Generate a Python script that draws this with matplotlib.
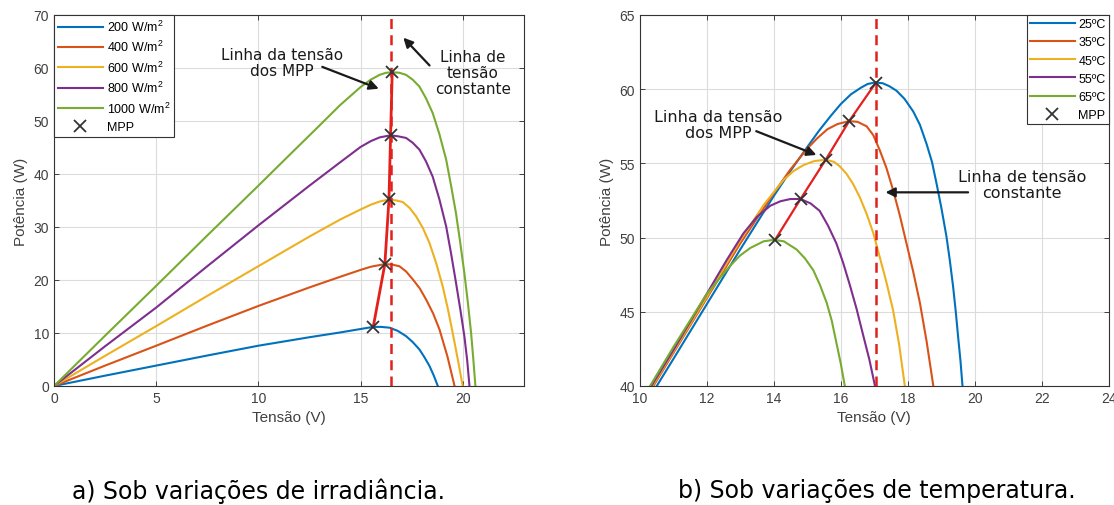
import matplotlib
matplotlib.use("Agg")
import matplotlib.pyplot as plt

plt.rcParams['font.family'] = ['Liberation Sans', 'DejaVu Sans']
plt.rcParams['mathtext.default'] = 'regular'

# ---------------- Data: panel a (irradiance) ----------------
irr_labels = ['200 W/m$^2$', '400 W/m$^2$', '600 W/m$^2$', '800 W/m$^2$', '1000 W/m$^2$']
v200 = [0, 2.5, 5, 7.5, 10, 12.5, 14.0, 15.0, 15.62, 16.0, 16.42, 16.82, 17.23, 17.55, 17.88,
        18.13, 18.37, 18.58, 18.78]
p200 = [0, 1.95, 3.85, 5.75, 7.6, 9.2, 10.1, 10.75, 11.15, 11.15, 11.0, 10.4, 9.4, 8.3, 6.9,
        5.4, 3.8, 2.0, 0]
v400 = [0, 2.5, 5, 7.5, 10, 12.5, 14.0, 15.0, 15.5, 16.19, 16.55, 16.9, 17.23, 17.56, 17.9,
        18.21, 18.55, 18.86, 19.25, 19.6]
p400 = [0, 3.85, 7.6, 11.4, 15.1, 18.6, 20.6, 21.9, 22.5, 23.0, 22.9, 22.6, 21.6, 20.1, 18.4,
        16.3, 13.7, 10.7, 5.6, 0]
v600 = [0, 2.5, 5, 7.5, 10, 12.5, 14.0, 15.0, 15.5, 15.93, 16.39, 16.75, 17.07, 17.4, 17.72,
        18.05, 18.37, 18.7, 19.02, 19.27, 19.51, 19.76, 20.0]
p600 = [0, 5.7, 11.3, 17.0, 22.6, 28.2, 31.4, 33.3, 34.2, 34.8, 35.2, 35.0, 34.7, 33.6, 32.0,
        29.8, 27.0, 23.2, 18.8, 14.6, 10.0, 5.0, 0]
v800 = [0, 2.5, 5, 7.5, 10, 12.5, 14.0, 15.0, 15.5, 15.93, 16.47, 16.85, 17.23, 17.55, 17.88,
        18.2, 18.53, 18.86, 19.19, 19.43, 19.67, 19.88, 20.08, 20.22, 20.33]
p800 = [0, 7.5, 14.8, 22.6, 30.3, 37.8, 42.2, 45.1, 46.2, 46.9, 47.3, 47.1, 46.8, 45.9, 44.6,
        42.4, 39.5, 35.2, 30.1, 25.0, 19.5, 14.5, 9.4, 4.8, 0]
v1000 = [0, 2.5, 5, 7.5, 10, 11.5, 12.9, 14.0, 15.0, 15.5, 15.93, 16.25, 16.55, 16.9, 17.23,
         17.55, 17.88, 18.2, 18.53, 18.86, 19.19, 19.43, 19.67, 19.88, 20.08, 20.25, 20.41,
         20.52, 20.62]
p1000 = [0, 9.5, 18.9, 28.4, 37.8, 43.5, 48.8, 53.0, 56.4, 57.8, 58.7, 59.1, 59.2, 59.1, 58.7,
         57.8, 56.5, 54.3, 51.5, 47.5, 42.7, 37.8, 32.6, 27.0, 21.3, 15.8, 10.0, 5.0, 0]
mpp_a_v = [15.62, 16.19, 16.39, 16.47, 16.55]
mpp_a_p = [11.15, 23.0, 35.2, 47.3, 59.2]
vconst_a = 16.5

# ---------------- Data: panel b (temperature) ----------------
temp_labels = ['25ºC', '35ºC', '45ºC', '55ºC', '65ºC']
v25 = [10.51, 11.0, 12.0, 13.0, 14.0, 14.5, 15.0, 15.35, 15.7, 16.0, 16.3, 16.6, 16.8, 17.02,
       17.25, 17.45, 17.66, 17.9, 18.16, 18.36, 18.56, 18.72, 18.86, 19.0, 19.15, 19.25, 19.35,
       19.43, 19.5, 19.57, 19.63]
p25 = [40, 41.8, 45.5, 49.2, 52.8, 54.5, 56.1, 57.2, 58.2, 59.0, 59.65, 60.1, 60.35, 60.45,
       60.4, 60.2, 59.9, 59.35, 58.5, 57.6, 56.3, 55.1, 53.6, 52.0, 50.1, 48.5, 46.7,
       45.0, 43.3, 41.7, 40]
v35 = [10.41, 11.0, 12.0, 13.0, 14.0, 14.5, 15.0, 15.3, 15.6, 15.9, 16.25, 16.5, 16.77, 16.97,
       17.16, 17.36, 17.56, 17.76, 17.96, 18.16, 18.36, 18.56, 18.76]
p35 = [40, 42.2, 45.9, 49.6, 53.0, 54.6, 56.0, 56.7, 57.3, 57.65, 57.85, 57.8, 57.5, 56.9,
       55.9, 54.7, 53.2, 51.5, 49.6, 47.7, 45.6, 43.0, 40]
v45 = [10.38, 11.0, 12.0, 13.0, 13.7, 14.3, 14.6, 14.9, 15.2, 15.55, 15.8, 15.97, 16.17, 16.37,
       16.57, 16.77, 16.97, 17.16, 17.36, 17.56, 17.74, 17.91]
p45 = [40, 42.3, 46.0, 49.8, 52.2, 53.9, 54.5, 54.9, 55.15, 55.25, 55.1, 54.8, 54.3, 53.6,
       52.7, 51.6, 50.3, 48.7, 47.0, 45.1, 42.8, 40]
v55 = [10.35, 11.0, 12.0, 12.6, 13.1, 13.5, 13.9, 14.2, 14.5, 14.8, 15.1, 15.37, 15.62, 15.87,
       16.07, 16.27, 16.47, 16.67, 16.85, 17.02]
p55 = [40, 42.4, 46.2, 48.5, 50.3, 51.4, 52.15, 52.45, 52.6, 52.6, 52.3, 51.8, 50.8, 49.6,
       48.3, 46.8, 45.2, 43.4, 41.8, 40]
v65 = [10.31, 11.0, 12.0, 12.4, 12.7, 13.0, 13.3, 13.7, 14.0, 14.3, 14.68, 14.93, 15.18, 15.38,
       15.58, 15.73, 15.87, 16.0, 16.12]
p65 = [40, 42.6, 46.2, 47.3, 48.1, 48.8, 49.3, 49.75, 49.85, 49.75, 49.2, 48.6, 47.8, 46.8,
       45.6, 44.4, 42.9, 41.5, 40]
mpp_b_v = [14.04, 14.8, 15.55, 16.25, 17.05]
mpp_b_p = [49.85, 52.6, 55.25, 57.85, 60.45]
vconst_b = 17.05

colors = ['#0072BD', '#D95319', '#EDB120', '#7E2F8E', '#77AC30']
red = '#e3201b'
tick_col = '#404040'

fig = plt.figure(figsize=(11.14, 5.06), dpi=100)
axa = fig.add_axes([0.0485, 0.2352, 0.4219, 0.7332])
axb = fig.add_axes([0.5742, 0.2352, 0.4213, 0.7332])


def style(ax):
    ax.grid(True, color='#dcdcdc', lw=0.8)
    ax.set_axisbelow(True)
    ax.tick_params(direction='in', top=True, right=True, labelsize=10,
                   colors=tick_col, length=3.5, width=0.7)
    for s in ax.spines.values():
        s.set_color('#333333')
        s.set_linewidth(0.8)


# ---- panel a ----
series_a = [(v200, p200), (v400, p400), (v600, p600), (v800, p800), (v1000, p1000)]
for (v, p), c, lab in zip(series_a, colors, irr_labels):
    axa.plot(v, p, color=c, lw=1.5, label=lab, solid_joinstyle='round')
axa.plot(mpp_a_v, mpp_a_p, color=red, lw=2.0, zorder=4)
axa.plot(mpp_a_v, mpp_a_p, 'x', color='#333333', ms=8, mew=1.3, zorder=5, label='MPP')
axa.axvline(vconst_a, color=red, lw=1.8, ls=(0, (4, 2.5)), zorder=4)
axa.set_xlim(0, 23)
axa.set_ylim(0, 70)
axa.set_xticks([0, 5, 10, 15, 20])
axa.set_yticks(range(0, 71, 10))
axa.set_xlabel('Tensão (V)', fontsize=11, color=tick_col)
axa.set_ylabel('Potência (W)', fontsize=11, color=tick_col)
style(axa)
leg = axa.legend(loc='upper left', fontsize=9, handlelength=3.6, labelspacing=0.42,
                 borderpad=0.3, handletextpad=0.3, borderaxespad=0, fancybox=False,
                 framealpha=1, edgecolor='#333333')
leg.get_frame().set_linewidth(0.8)

axa.annotate('', xy=(16.02, 55.9), xytext=(13.0, 60.4),
             arrowprops=dict(arrowstyle='-|>', color='#1a1a1a', lw=1.6, mutation_scale=14))
axa.text(11.15, 61.1, 'Linha da tensão\ndos MPP', ha='center', va='center',
         fontsize=11, family='DejaVu Sans', color='#1a1a1a', linespacing=1.1)
axa.annotate('', xy=(17.0, 66.1), xytext=(18.47, 60.1),
             arrowprops=dict(arrowstyle='-|>', color='#1a1a1a', lw=1.6, mutation_scale=14))
axa.text(20.5, 59.2, 'Linha de\ntensão\nconstante', ha='center', va='center',
         fontsize=11, family='DejaVu Sans', color='#1a1a1a', linespacing=1.1)

# ---- panel b ----
series_b = [(v25, p25), (v35, p35), (v45, p45), (v55, p55), (v65, p65)]
for (v, p), c, lab in zip(series_b, colors, temp_labels):
    axb.plot(v, p, color=c, lw=1.5, label=lab, solid_joinstyle='round')
axb.plot(mpp_b_v, mpp_b_p, color=red, lw=1.6, zorder=4)
axb.plot(mpp_b_v, mpp_b_p, 'x', color='#333333', ms=8, mew=1.3, zorder=5, label='MPP')
axb.axvline(vconst_b, color=red, lw=1.8, ls=(0, (4, 2.5)), zorder=4)
axb.set_xlim(10, 24)
axb.set_ylim(40, 65)
axb.set_xticks(range(10, 25, 2))
axb.set_yticks(range(40, 66, 5))
axb.set_xlabel('Tensão (V)', fontsize=11, color=tick_col)
axb.set_ylabel('Potência (W)', fontsize=11, color=tick_col)
style(axb)
legb = axb.legend(loc='upper right', fontsize=9, handlelength=3.6, labelspacing=0.5,
                  borderpad=0.25, handletextpad=0.3, borderaxespad=0, fancybox=False,
                  framealpha=1, edgecolor='#333333')
legb.get_frame().set_linewidth(0.8)

axb.annotate('', xy=(15.35, 55.5), xytext=(13.4, 57.24),
             arrowprops=dict(arrowstyle='-|>', color='#1a1a1a', lw=1.6, mutation_scale=14))
axb.text(12.34, 57.6, 'Linha da tensão\ndos MPP', ha='center', va='center',
         fontsize=11.5, family='DejaVu Sans', color='#1a1a1a', linespacing=1.1)
axb.annotate('', xy=(17.25, 53.05), xytext=(19.88, 53.05),
             arrowprops=dict(arrowstyle='-|>', color='#1a1a1a', lw=1.6, mutation_scale=14))
axb.text(21.4, 53.56, 'Linha de tensão\nconstante', ha='center', va='center',
         fontsize=11.5, family='DejaVu Sans', color='#1a1a1a', linespacing=1.1)

# ---- captions ----
fig.text(258 / 1114, 1 - 491 / 506, 'a) Sob variações de irradiância.', ha='center', va='center',
         fontsize=17, family='DejaVu Sans', color='black')
fig.text(877 / 1114, 1 - 491 / 506, 'b) Sob variações de temperatura.', ha='center', va='center',
         fontsize=17, family='DejaVu Sans', color='black')

fig.savefig('out.png', dpi=100)
